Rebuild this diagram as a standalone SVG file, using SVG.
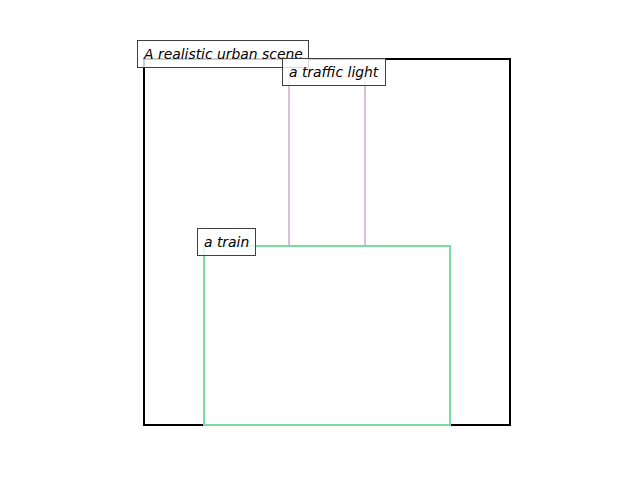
<svg xmlns="http://www.w3.org/2000/svg" width="640" height="480" viewBox="0 0 640 480">
<style>
.box{fill:none;stroke-width:2}
.lbl rect{fill:#ffffff;fill-opacity:0.8;stroke:#3f3f3f;stroke-width:1}
.lbl text{font-family:"DejaVu Sans",sans-serif;font-style:italic;font-size:13.9px;fill:#000}
</style>
<rect width="640" height="480" fill="#ffffff"/>
<g id="scene">
<rect class="box" x="144" y="59" width="366" height="366" stroke="#000000"/>
</g>
<g id="traffic-light">
<rect class="box" x="289" y="77" width="76" height="169" stroke="#D8BFD8"/>
</g>
<g id="train">
<rect class="box" x="204" y="246" width="246" height="179" stroke="#77DDA0"/>
</g>
<g id="connectors"></g>
<g id="label-scene" class="lbl">
<rect x="137.5" y="40.5" width="171" height="27"/>
<text x="144" y="59">A realistic urban scene</text>
</g>
<g id="label-traffic-light" class="lbl">
<rect x="282.5" y="58.5" width="103" height="27"/>
<text x="289" y="77">a traffic light</text>
</g>
<g id="label-train" class="lbl">
<rect x="197.5" y="228.5" width="58" height="27"/>
<text x="204" y="247">a train</text>
</g>
</svg>
